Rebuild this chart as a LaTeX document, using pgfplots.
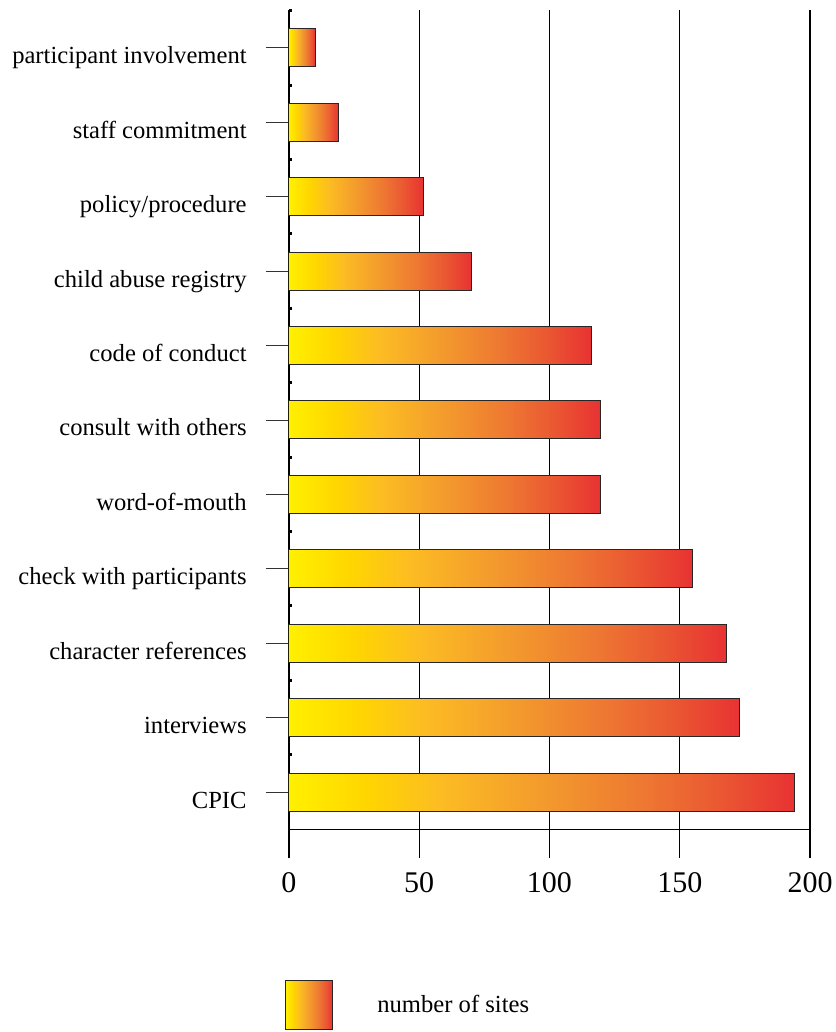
\documentclass[border=0pt]{standalone}
\usepackage{fontspec}
\setmainfont{Liberation Serif}
\usepackage{pgfplots}
\pgfplotsset{compat=1.18}
\definecolor{sA}{RGB}{255,240,0}
\definecolor{sB}{RGB}{255,214,0}
\definecolor{sC}{RGB}{252,188,35}
\definecolor{sD}{RGB}{243,155,45}
\definecolor{sE}{RGB}{238,120,50}
\definecolor{sF}{RGB}{234,88,50}
\definecolor{sG}{RGB}{232,50,50}
\pgfdeclarehorizontalshading{barshade}{100bp}{color(0bp)=(sA); color(25bp)=(sA); color(32.5bp)=(sB); color(40bp)=(sC); color(50bp)=(sD); color(60bp)=(sE); color(67.5bp)=(sF); color(75bp)=(sG); color(100bp)=(sG)}
\pgfplotsset{barsty/.style={draw=black!85, line width=0.5pt, shade, shading=barshade,
  legend image code/.code={\draw[draw=black!85, line width=0.5pt, shade, shading=barshade] (0pt,-12.25pt) rectangle (23.5pt,12.25pt);}}}
\begin{document}
\begin{tikzpicture}
\begin{axis}[
 scale only axis, width=260.5pt, height=424pt,
 xmin=0, xmax=200, ymin=-0.887, ymax=10.51,
 axis lines*=left,
 x axis line style={draw=none},
 y axis line style={draw=black, line width=0.65pt},
 xtick={0,50,100,150,200},
 xmajorgrids, major grid style={black, line width=0.65pt},
 x tick style={draw=none},
 xticklabel style={font=\fontsize{15}{17}\selectfont, inner sep=0pt, anchor=north},
 xticklabel shift=-4.5pt,
 ytick={0,...,10},
 yticklabels={CPIC, interviews, character references, check with participants, word-of-mouth, consult with others, code of conduct, child abuse registry, policy/procedure, staff commitment, participant involvement},
 yticklabel style={font=\fontsize{12.3}{14}\selectfont, inner sep=0pt, anchor=base east, yshift=-8pt},
 every major y tick/.style={draw=black!80, line width=0.45pt},
 every minor y tick/.style={black, line width=1.5pt, xshift=1.5pt},
 tick align=outside, major tick length=11.5pt,
 yticklabel shift=9.5pt,
 minor ytick={0.5,1.5,...,10.5},
 minor tick length=1.5pt,
 /pgf/number format/assume math mode=true,
 xbar, bar width=19pt, bar shift=0pt,
 legend style={at={(rel axis cs:0,0)}, anchor=north west, xshift=-2pt, yshift=-61pt,
   draw=none, fill=none, inner sep=0pt, column sep=22pt,
   font=\fontsize{12.3}{14}\selectfont, nodes={inner sep=0pt}},
 legend cell align=left,
]
\addplot[barsty] coordinates {(194,0)};
\addlegendentry{number of sites}
\addplot[barsty, forget plot] coordinates {(173,1)};
\addplot[barsty, forget plot] coordinates {(168,2)};
\addplot[barsty, forget plot] coordinates {(155,3)};
\addplot[barsty, forget plot] coordinates {(119.5,4)};
\addplot[barsty, forget plot] coordinates {(119.5,5)};
\addplot[barsty, forget plot] coordinates {(116,6)};
\addplot[barsty, forget plot] coordinates {(70,7)};
\addplot[barsty, forget plot] coordinates {(51.5,8)};
\addplot[barsty, forget plot] coordinates {(19,9)};
\addplot[barsty, forget plot] coordinates {(10,10)};
\draw[black, line width=0.65pt] (axis cs:0,-0.5) -- (axis cs:200,-0.5);
\coordinate (O) at (rel axis cs:0,0);
\end{axis}
\pgfresetboundingbox
\path[use as bounding box] (O) ++(-144.5pt,-87pt) rectangle ++(417.5pt,516pt);
\end{tikzpicture}
\end{document}
